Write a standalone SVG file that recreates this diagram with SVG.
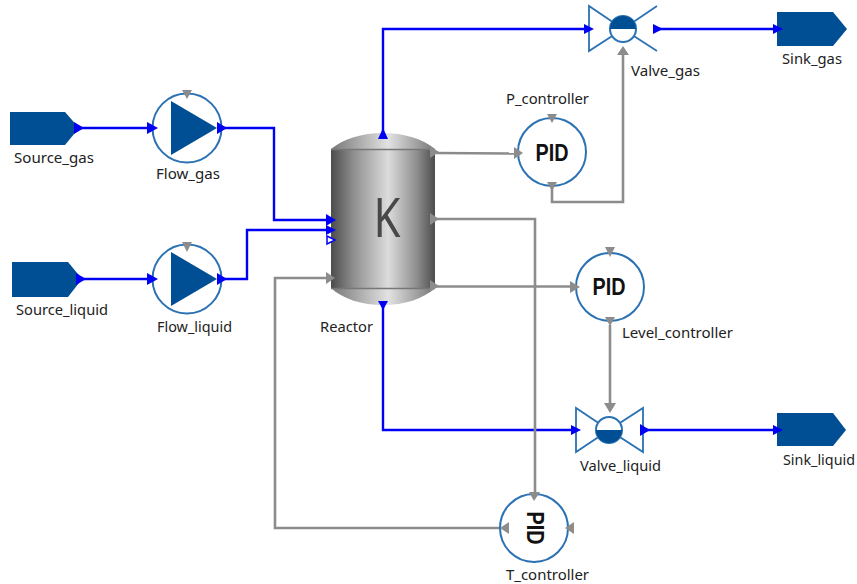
<svg xmlns="http://www.w3.org/2000/svg" width="857" height="584" viewBox="0 0 857 584">
<style>
text{font-family:"Noto Sans","DejaVu Sans",sans-serif;font-size:14px;fill:#222}
.b{fill:none;stroke:#0000f5;stroke-width:2.4;stroke-linejoin:miter}
.g{fill:none;stroke:#8c8c8c;stroke-width:2.6}
.ab{fill:#0000f5}
.ag{fill:#8c8c8c}
.port{fill:#004f94}
.ring{fill:#fff;stroke:#2b72b4;stroke-width:2}
.v{fill:#fff;stroke:#2b72b4;stroke-width:1.8}
.pid{font-family:"Liberation Sans",Arial,sans-serif;font-weight:700;font-size:24px;fill:#111;text-anchor:middle}
</style>
<defs>
<linearGradient id="body" x1="0" x2="1" y1="0" y2="0">
<stop offset="0" stop-color="#4c4c4c"/><stop offset=".22" stop-color="#909090"/><stop offset=".55" stop-color="#dcdcdc"/><stop offset=".82" stop-color="#909090"/><stop offset="1" stop-color="#4c4c4c"/>
</linearGradient>
<linearGradient id="cap" x1="0" x2="1" y1="0" y2="0">
<stop offset="0" stop-color="#777"/><stop offset=".55" stop-color="#e2e2e2"/><stop offset="1" stop-color="#777"/>
</linearGradient>
</defs>
<g id="connectors">
<path class="b" d="M80 128H150"/>
<path class="b" d="M222 128H274V220H328"/>
<path class="b" d="M82 279H150"/>
<path class="b" d="M222 279H247V230H328"/>
<path class="b" d="M383 135V29H587"/>
<path class="b" d="M658 29H776"/>
<path class="b" d="M383 305V430H572"/>
<path class="b" d="M645 430H776"/>
<path class="g" d="M436 153L516 153.500"/>
<path class="g" d="M552 188V202H623V54"/>
<path class="g" d="M436 286.500H572"/>
<path class="g" d="M610 325V405"/>
<path class="g" d="M436 219H535V498"/>
<path class="g" d="M502 528H275V278H328"/>
</g>
<g id="Source_gas"><polygon class="port" points="10,112 65,112 79,128 65,145 10,145"/><polygon class="ab" points="74,122 84,128 74,134"/><text x="14" y="163" textLength="80" lengthAdjust="spacingAndGlyphs">Source_gas</text></g>
<g id="Source_liquid"><polygon class="port" points="12,262 68,262 82,279 68,297 12,297"/><polygon class="ab" points="76,273 86,279 76,285"/><text x="16" y="315" textLength="92" lengthAdjust="spacingAndGlyphs">Source_liquid</text></g>
<g id="Flow_gas"><circle class="ring" cx="187" cy="128" r="34.500"/><polygon class="port" points="171,101 217,128 171,155"/><polygon class="ag" points="182,90 192,90 187,99"/><polygon class="ab" points="147,122 158,128 147,134"/><polygon class="ab" points="217,122 227,128 217,134"/><text x="156" y="179" textLength="64" lengthAdjust="spacingAndGlyphs">Flow_gas</text></g>
<g id="Flow_liquid"><circle class="ring" cx="187" cy="279" r="34.500"/><polygon class="port" points="171,252 217,279 171,306"/><polygon class="ag" points="182,242 192,242 187,252"/><polygon class="ab" points="147,273 158,279 147,285"/><polygon class="ab" points="217,273 227,279 217,285"/><text x="157" y="332" textLength="75" lengthAdjust="spacingAndGlyphs">Flow_liquid</text></g>
<g id="Reactor">
<path fill="url(#cap)" d="M331 149C343 139 362 133 383 133C404 133 423 139 435 149Z"/>
<path fill="url(#cap)" d="M331 288C343 299 362 305 383 305C404 305 423 299 435 288Z"/>
<rect x="331" y="149" width="104" height="139" fill="url(#body)"/>
<path d="M331 149.500H435M331 288.500H435" stroke="#777" stroke-width="1.500"/>
<text x="387" y="237" textLength="27" lengthAdjust="spacingAndGlyphs" style="font-family:'Noto Sans',sans-serif;font-size:55px;fill:#484848;text-anchor:middle">K</text>
<polygon class="ab" points="378,139 383,128 388,139"/>
<polygon class="ab" points="378,301 388,301 383,310"/>
<polygon class="ab" points="326,214 336,220 326,226"/>
<polygon class="ab" points="326,225 336,230 326,235"/>
<polygon points="327,236 335,240 327,244" fill="#fff" stroke="#0000f5" stroke-width="1.500"/>
<polygon class="ag" points="326,272 335,278 326,284"/>
<polygon class="ag" points="430,146 439,152 430,158"/>
<polygon class="ag" points="430,213 439,219 430,225"/>
<polygon class="ag" points="430,280 439,286 430,292"/>
<text x="320" y="332" textLength="53" lengthAdjust="spacingAndGlyphs">Reactor</text>
</g>
<g id="Valve_gas">
<path class="v" d="M623 29L657 6M623 29L657 51"/>
<path class="v" d="M589 6V51L623 29Z"/>
<circle class="ring" cx="623" cy="29" r="13"/>
<path class="port" d="M610 29A13 13 0 0 1 636 29Z"/>
<polygon class="ab" points="584,24 594,29 584,34"/>
<polygon class="ab" points="653,24 663,29 653,34"/>
<polygon class="ag" points="617,55 629,55 623,46"/>
<text x="631" y="76" textLength="69" lengthAdjust="spacingAndGlyphs">Valve_gas</text>
</g>
<g id="Sink_gas"><polygon class="port" points="777,12 833,12 847,29 833,46 777,46"/><polygon class="ab" points="773,24 783,29 773,34"/><text x="782" y="64" textLength="60" lengthAdjust="spacingAndGlyphs">Sink_gas</text></g>
<g id="P_controller"><circle class="ring" cx="552" cy="152" r="34"/><text class="pid" x="552" y="161" textLength="33" lengthAdjust="spacingAndGlyphs">PID</text><polygon class="ag" points="547,114 557,114 552,123"/><polygon class="ag" points="514,147 523,153 514,159"/><polygon class="ag" points="547,182 557,182 552,191"/><text x="506" y="104" textLength="83" lengthAdjust="spacingAndGlyphs">P_controller</text></g>
<g id="Level_controller"><circle class="ring" cx="610" cy="287" r="34"/><text class="pid" x="609" y="295" textLength="33" lengthAdjust="spacingAndGlyphs">PID</text><polygon class="ag" points="605,247 615,247 610,257"/><polygon class="ag" points="570,281 580,287 570,293"/><polygon class="ag" points="605,317 615,317 610,326"/><text x="622" y="338" textLength="111" lengthAdjust="spacingAndGlyphs">Level_controller</text></g>
<g id="Valve_liquid">
<path class="v" d="M576 408V452L609 430Z"/>
<path class="v" d="M643 408V452L609 430Z"/>
<circle class="ring" cx="609" cy="430" r="13"/>
<path class="port" d="M596 430A13 13 0 0 0 622 430Z"/>
<polygon class="ab" points="571,425 581,430 571,435"/>
<polygon class="ab" points="640,424 650,430 640,436"/>
<polygon class="ag" points="604,403 616,403 610,413"/>
<text x="580" y="471" textLength="81" lengthAdjust="spacingAndGlyphs">Valve_liquid</text>
</g>
<g id="Sink_liquid"><polygon class="port" points="777,413 833,413 846,430 833,446 777,446"/><polygon class="ab" points="773,425 783,430 773,435"/><text x="783" y="465" textLength="72" lengthAdjust="spacingAndGlyphs">Sink_liquid</text></g>
<g id="T_controller"><circle class="ring" cx="534" cy="528" r="34"/><text class="pid" x="0" y="0" transform="translate(527 528) rotate(90)" textLength="33" lengthAdjust="spacingAndGlyphs">PID</text><polygon class="ag" points="529,492 540,492 534,501"/><polygon class="ag" points="509,522 509,534 500,528"/><polygon class="ag" points="574,522 574,534 565,528"/><text x="506" y="580" textLength="83" lengthAdjust="spacingAndGlyphs">T_controller</text></g>
</svg>
